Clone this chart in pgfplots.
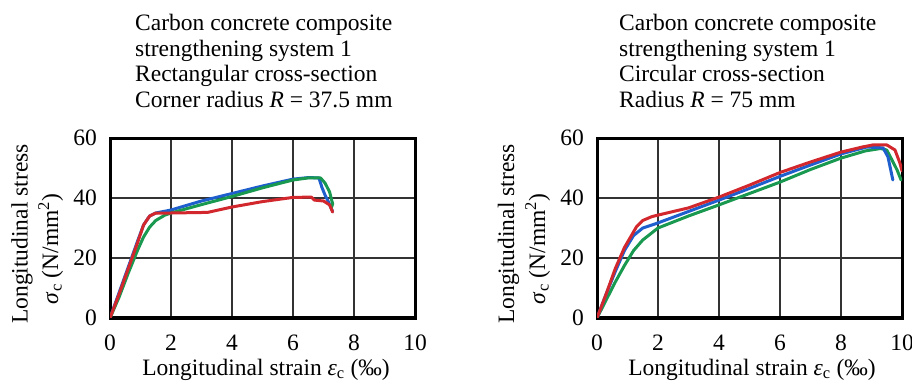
\documentclass[border=0pt]{standalone}
\usepackage{fontspec}
\setmainfont{Liberation Serif}
\usepackage{pgfplots}
\pgfplotsset{compat=1.18}
\definecolor{cred}{RGB}{210,40,45}
\definecolor{cblue}{RGB}{30,95,205}
\definecolor{cgreen}{RGB}{25,152,80}
\pgfplotsset{
  myax/.style={
    anchor=south west, scale only axis, width=305bp, height=180bp,
    xmin=0, xmax=10, ymin=0, ymax=60,
    xtick={0,2,...,10}, ytick={0,20,40,60},
    grid=major, major grid style={line width=1.5bp, black!80},
    axis line style={line width=3bp},
    tick style={draw=none},
    /pgf/number format/assume math mode=true,
    xticklabel style={anchor=base, inner sep=0pt},
    xticklabel shift=32.5bp,
    yticklabel style={anchor=east, inner sep=0pt},
    yticklabel shift=13bp,
    every axis plot/.append style={line width=3bp, line join=round, line cap=round, no marks},
  }
}
\begin{document}
\fontsize{23.5bp}{25.5bp}\selectfont
\begin{tikzpicture}
\path[use as bounding box] (0bp,0bp) rectangle (912bp,385bp);
% ---------- left ----------
\begin{axis}[myax, at={(110bp,67bp)}]
\addplot[cblue] coordinates {(0,0)(0.3,8.5)(0.6,17)(0.9,25.5)(1.1,31)(1.3,34)(1.5,35)(2,36)(3,39)(4,41.5)(5,44)(6,46.3)(6.5,46.8)(6.85,46.7)(6.95,43.5)(7.05,41)(7.15,39)(7.3,35.5)};
\addplot[cgreen] coordinates {(0,0)(0.3,7)(0.6,15)(0.9,22.5)(1.1,27)(1.3,30.3)(1.5,32.5)(1.8,34.3)(2,35)(3,37.8)(4,40.5)(5,43.4)(6,46)(6.5,46.7)(6.9,46.7)(7.05,45)(7.2,42)(7.3,38)(7.25,36.5)};
\addplot[cred] coordinates {(0,0)(0.3,8)(0.6,16.5)(0.9,25)(1.1,31)(1.3,34)(1.5,35)(2,35)(3.2,35.2)(4,37)(5,38.8)(6,40.2)(6.6,40.3)(6.7,39.3)(7,39)(7.2,37.7)(7.3,35.3)};
\end{axis}
% ---------- right ----------
\begin{axis}[myax, at={(597bp,67bp)}]
\addplot[cgreen] coordinates {(0,0)(0.3,6)(0.6,12)(0.9,17.5)(1.2,22.5)(1.5,26)(2,30)(3,34)(4,37.7)(5,41.5)(6,45.3)(7,49.5)(8,53.3)(8.8,55.7)(9.3,56.5)(9.5,56)(9.67,52.7)(9.84,49.3)(9.97,46)};
\addplot[cblue] coordinates {(0,0)(0.3,8)(0.6,15.5)(0.9,22.5)(1.2,27.5)(1.5,30)(1.8,31)(2,31.7)(3,35.5)(4,39.3)(5,43.2)(6,47.2)(7,51)(8,54.7)(8.85,57)(9.38,56.7)(9.54,53.7)(9.7,46)};
\addplot[cred] coordinates {(0,0)(0.3,8)(0.6,16.5)(0.9,23.5)(1.1,27)(1.3,30.5)(1.5,32.5)(1.8,33.8)(2,34.3)(3,36.7)(4,40.3)(5,44.3)(6,48.5)(7,52)(8,55.3)(8.7,57)(9.05,57.7)(9.5,57.7)(9.77,56)(9.93,51.7)(10,49)};
\end{axis}
% ---------- titles ----------
\node[anchor=base west, inner sep=0pt] at (135bp,354.3bp) {Carbon concrete composite};
\node[anchor=base west, inner sep=0pt] at (135bp,328.8bp) {strengthening system 1};
\node[anchor=base west, inner sep=0pt] at (135bp,303.3bp) {Rectangular cross-section};
\node[anchor=base west, inner sep=0pt] at (135bp,277.7bp) {Corner radius \textit{R} = 37.5 mm};
\node[anchor=base west, inner sep=0pt] at (619bp,354.3bp) {Carbon concrete composite};
\node[anchor=base west, inner sep=0pt] at (619bp,328.8bp) {strengthening system 1};
\node[anchor=base west, inner sep=0pt] at (619bp,303.3bp) {Circular cross-section};
\node[anchor=base west, inner sep=0pt] at (619bp,277.7bp) {Radius \textit{R} = 75 mm};
% ---------- y labels ----------
\node[anchor=base, rotate=90, inner sep=0pt] at (27.5bp,151bp) {Longitudinal stress};
\node[anchor=base, rotate=90, inner sep=0pt] at (58bp,136bp) {\textit{σ}\textsubscript{c} (N/mm\textsuperscript{2})};
\node[anchor=base, rotate=90, inner sep=0pt] at (514bp,151bp) {Longitudinal stress};
\node[anchor=base, rotate=90, inner sep=0pt] at (545bp,136bp) {\textit{σ}\textsubscript{c} (N/mm\textsuperscript{2})};
% ---------- x labels ----------
\node[anchor=base, inner sep=0pt] at (266bp,10bp) {Longitudinal strain \textit{ε}\textsubscript{c} (‰)};
\node[anchor=base, inner sep=0pt] at (752bp,10bp) {Longitudinal strain \textit{ε}\textsubscript{c} (‰)};
\end{tikzpicture}
\end{document}
